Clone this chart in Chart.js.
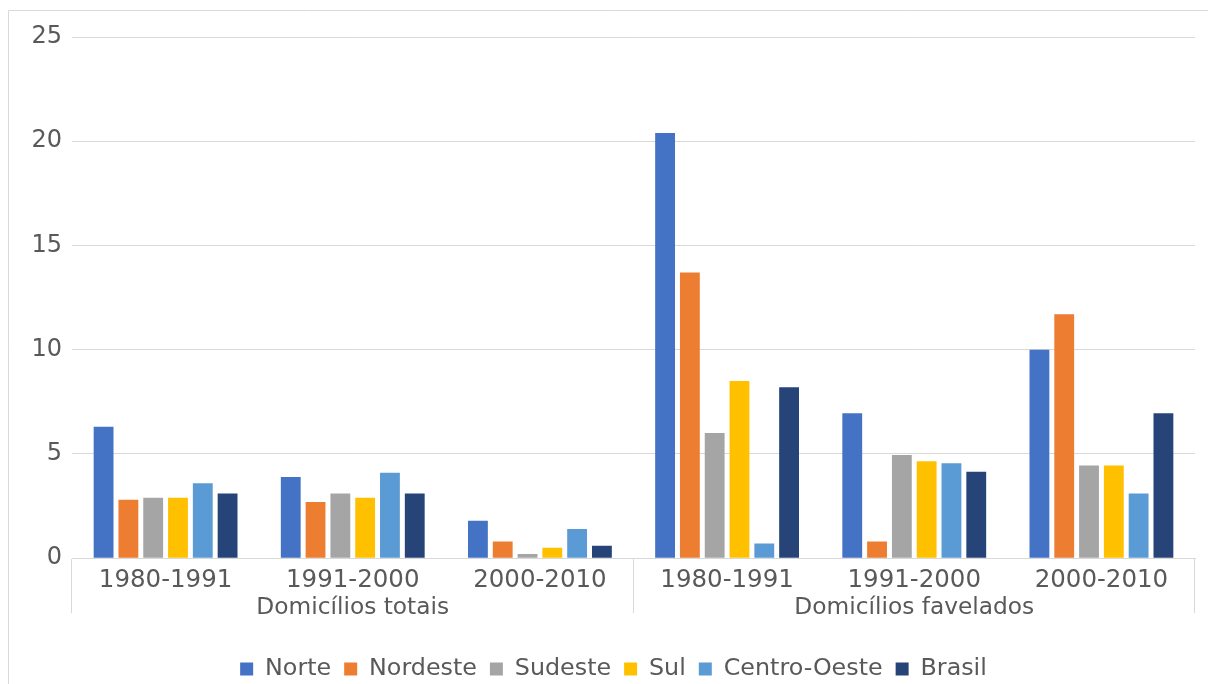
<!DOCTYPE html>
<html>
<head>
<meta charset="utf-8">
<script src="https://cdn.jsdelivr.net/npm/chart.js@4"></script>
<style>
  html, body { margin: 0; padding: 0; background: #ffffff; overflow: hidden; }
  #c { display: block; }
</style>
</head>
<body>
<canvas id="c" width="1208" height="684"></canvas>
<script>
const periods = ['1980-1991', '1991-2000', '2000-2010', '1980-1991', '1991-2000', '2000-2010'];
const groups = ['Domicílios totais', 'Domicílios favelados'];
const seriesNames = ['Norte', 'Nordeste', 'Sudeste', 'Sul', 'Centro-Oeste', 'Brasil'];
const norte       = [6.3, 3.9, 1.8, 20.4, 6.95, 10.0];
const nordeste    = [2.8, 2.7, 0.8, 13.7, 0.8, 11.7];
const sudeste     = [2.9, 3.1, 0.2, 6.0, 4.95, 4.45];
const sul         = [2.9, 2.9, 0.5, 8.5, 4.65, 4.45];
const centroOeste = [3.6, 4.1, 1.4, 0.7, 4.55, 3.1];
const brasil      = [3.1, 3.1, 0.6, 8.2, 4.15, 6.95];
const yTicks = [0, 5, 10, 15, 20, 25];

const colors = ['#4472C4', '#ED7D31', '#A5A5A5', '#FFC000', '#5B9BD5', '#264478'];
const values = [norte, nordeste, sudeste, sul, centroOeste, brasil];
const textColor = '#595959';
const gridColor = '#d9d9d9';
const fam = "'DejaVu Sans', sans-serif";

const framePlugin = {
  id: 'frame',
  beforeDraw(chart) {
    const ctx = chart.ctx;
    ctx.save();
    ctx.fillStyle = '#ffffff';
    ctx.fillRect(0, 0, chart.width, chart.height);
    ctx.strokeStyle = gridColor;
    ctx.lineWidth = 1;
    ctx.beginPath();
    ctx.moveTo(8.5, chart.height);
    ctx.lineTo(8.5, 10.5);
    ctx.lineTo(chart.width, 10.5);
    ctx.stroke();
    ctx.restore();
  }
};

new Chart(document.getElementById('c'), {
  type: 'bar',
  data: {
    labels: periods,
    datasets: seriesNames.map((n, i) => ({
      label: n,
      data: values[i],
      backgroundColor: colors[i],
      borderWidth: 0,
      categoryPercentage: 0.795,
      barPercentage: 0.8
    }))
  },
  plugins: [framePlugin],
  options: {
    responsive: false,
    animation: false,
    layout: { padding: { left: 32, right: 13, top: 37, bottom: -7 } },
    plugins: {
      legend: {
        position: 'bottom',
        labels: {
          boxWidth: 13, boxHeight: 13, padding: 13,
          color: textColor,
          font: { family: fam, size: 23.8 }
        }
      },
      tooltip: { enabled: false }
    },
    scales: {
      y: {
        min: 0, max: 25,
        afterBuildTicks: s => { s.ticks = yTicks.map(v => ({ value: v })); },
        afterFit: s => { s.width = 40; },
        border: { display: false },
        grid: { color: gridColor, lineWidth: 1, drawTicks: false },
        ticks: { padding: 10, color: textColor, font: { family: fam, size: 24 } }
      },
      x: {
        weight: 0,
        afterFit: s => { s.height = 36; },
        border: { display: true, color: gridColor, width: 1 },
        grid: {
          drawOnChartArea: false,
          drawTicks: true,
          tickLength: 55,
          color: ctx => (ctx.type !== 'tick' || ctx.index % 3 === 0) ? gridColor : 'rgba(0,0,0,0)'
        },
        ticks: { padding: -47, color: textColor, font: { family: fam, size: 24.5 }, maxRotation: 0, autoSkip: false }
      },
      x2: {
        type: 'category',
        labels: groups,
        position: 'bottom',
        offset: true,
        weight: 1,
        afterFit: s => { s.height = 50; },
        border: { display: false },
        grid: { display: false, drawTicks: false },
        ticks: { padding: 0, color: textColor, font: { family: fam, size: 23.3 }, maxRotation: 0, autoSkip: false }
      }
    }
  }
});
</script>
</body>
</html>
